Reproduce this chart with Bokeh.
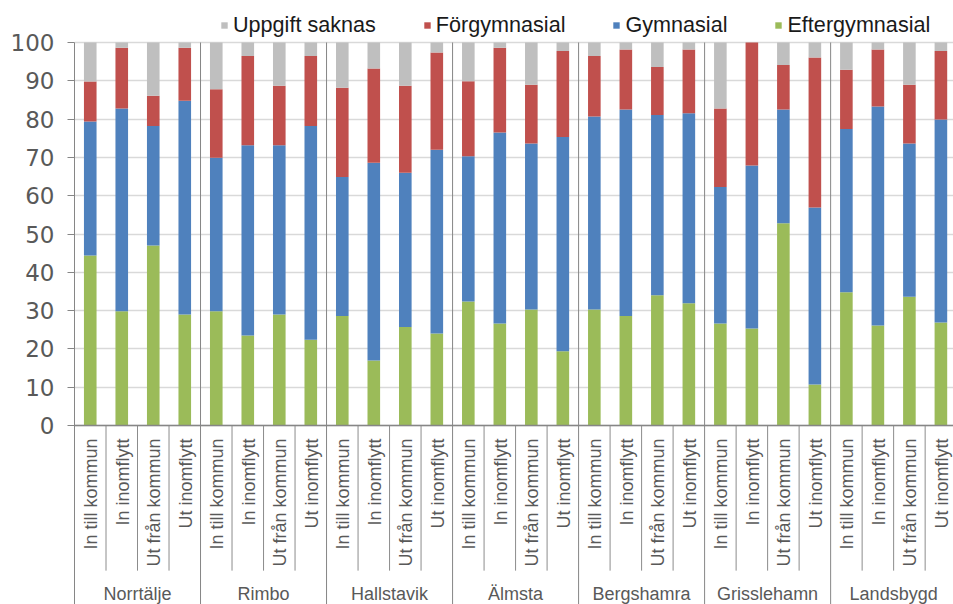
import numpy as np
from bokeh.plotting import figure
from bokeh.models import ColumnDataSource, Range1d, FixedTicker, Span, Legend, LegendItem
from bokeh.core.properties import value
from bokeh.embed import file_html
from bokeh.resources import INLINE

# ---------------- data ----------------
groups = ["Norrtälje", "Rimbo", "Hallstavik", "Älmsta", "Bergshamra", "Grisslehamn", "Landsbygd"]
subcats = ["In till kommun", "In inomflytt", "Ut från kommun", "Ut inomflytt"]

eftergymnasial = [44.4, 29.8, 47.0, 29.0,
                  29.8, 23.5, 29.0, 22.4,
                  28.6, 17.0, 25.7, 24.0,
                  32.4, 26.6, 30.3, 19.4,
                  30.3, 28.6, 34.0, 31.9,
                  26.6, 25.3, 52.8, 10.7,
                  34.8, 26.1, 33.6, 26.9]
gymnasial = [35.0, 53.0, 31.2, 55.8,
             40.1, 49.7, 44.2, 55.8,
             36.3, 51.6, 40.3, 48.0,
             37.9, 49.9, 43.3, 55.9,
             50.4, 53.9, 47.1, 49.6,
             35.7, 42.6, 29.7, 46.2,
             42.6, 57.2, 40.0, 53.0]
forgymnasial = [10.4, 15.8, 7.9, 13.8,
                17.9, 23.3, 15.5, 18.3,
                23.3, 24.6, 22.7, 25.4,
                19.6, 22.1, 15.4, 22.5,
                15.8, 15.7, 12.5, 16.7,
                20.5, 32.1, 11.6, 39.2,
                15.5, 14.9, 15.4, 17.9]
uppgift_saknas = [10.2, 1.4, 13.9, 1.4,
                  12.2, 3.5, 11.3, 3.5,
                  11.8, 6.8, 11.3, 2.6,
                  10.1, 1.4, 11.0, 2.2,
                  3.5, 1.8, 6.4, 1.8,
                  17.2, 0.0, 5.9, 3.9,
                  7.1, 1.8, 11.0, 2.2]
series_names = ["Eftergymnasial", "Gymnasial", "Förgymnasial", "Uppgift saknas"]
y_ticks = [0, 10, 20, 30, 40, 50, 60, 70, 80, 90, 100]

# ---------------- styles / layout ----------------
colors = ["#9BBB59", "#4F81BD", "#C0504D", "#BFBFBF"]
GREY_TXT = "#595959"
LINE_GREY = "#868686"
FONT = "Liberation Sans"

n_sub = len(subcats)
n_cat = len(groups) * n_sub
xs = np.arange(n_cat) + 0.5
cat_labels = [s for g in groups for s in subcats]

src = ColumnDataSource(dict(x=xs, eft=eftergymnasial, gym=gymnasial,
                            forg=forgymnasial, upp=uppgift_saknas))

Y_TOP = 100.0
Y_MAX = 110.97
Y_MIN = -46.74
CAT_LABEL_Y = -3.4
CAT_SEP_Y = -37.9
GROUP_LABEL_Y = -44.0

p = figure(width=953, height=604, output_backend="svg", toolbar_location=None,
           x_range=Range1d(0, 27.9), y_range=Range1d(Y_MIN, Y_MAX),
           x_axis_location=None, min_border_left=74, min_border_top=0,
           min_border_right=0, min_border_bottom=0)
p.outline_line_color = None
p.background_fill_color = "white"
p.border_fill_color = "white"

# grid
p.xgrid.visible = False
p.ygrid.ticker = FixedTicker(ticks=y_ticks)
p.ygrid.grid_line_color = "#D9D9D9"
p.ygrid.grid_line_width = 1.5

# y axis
yax = p.yaxis[0]
yax.ticker = FixedTicker(ticks=y_ticks)
yax.bounds = (Y_MIN, Y_TOP)
yax.axis_line_color = LINE_GREY
yax.major_tick_line_color = LINE_GREY
yax.major_tick_out = 7
yax.major_tick_in = 0
yax.minor_tick_line_color = None
yax.major_label_standoff = 13
yax.major_label_text_font = "DejaVu Sans"
yax.major_label_text_font_size = "23px"
yax.major_label_text_color = GREY_TXT

# bars
rs = p.vbar_stack(["eft", "gym", "forg", "upp"], x="x", width=0.4, color=colors,
                  line_color=None, source=src)

# baseline at 0
p.add_layout(Span(location=0, dimension="width", line_color=LINE_GREY, line_width=1.5))

# group separators (full height of plot + label area)
gb = [float(k * n_sub) for k in range(1, len(groups))]
p.segment(x0=gb, y0=[Y_MIN] * len(gb), x1=gb, y1=[Y_TOP] * len(gb),
          line_color=LINE_GREY, line_width=1)

# category separators inside groups
bx = [float(i) for i in range(1, n_cat) if i % n_sub != 0]
p.segment(x0=bx, y0=[0] * len(bx), x1=bx, y1=[CAT_SEP_Y] * len(bx),
          line_color="#8C8C8C", line_width=1)

# category labels
p.text(x=xs, y=[CAT_LABEL_Y] * n_cat, text=cat_labels, angle=np.pi / 2,
       text_align="right", text_baseline="middle", x_offset=1,
       text_font=value(FONT), text_font_size=value("18px"), text_color=GREY_TXT)

# group labels
gx = [k * n_sub + n_sub / 2 for k in range(len(groups))]
p.text(x=gx, y=[GROUP_LABEL_Y] * len(groups), text=groups,
       text_align="center", text_baseline="alphabetic",
       text_font=value(FONT), text_font_size=value("18px"), text_color=GREY_TXT)

# legend
items = [LegendItem(label=series_names[i], renderers=[rs[i]]) for i in [3, 2, 1, 0]]
legend = Legend(items=items, orientation="horizontal", location=(146, 566),
                glyph_width=8, glyph_height=8, label_standoff=5, spacing=47,
                padding=4, margin=0, border_line_color=None, background_fill_alpha=0,
                label_text_font=FONT, label_text_font_size="21.6px", label_text_color="#1A1A1A")
p.add_layout(legend, "center")

open("out.html", "w").write(file_html(p, INLINE))
